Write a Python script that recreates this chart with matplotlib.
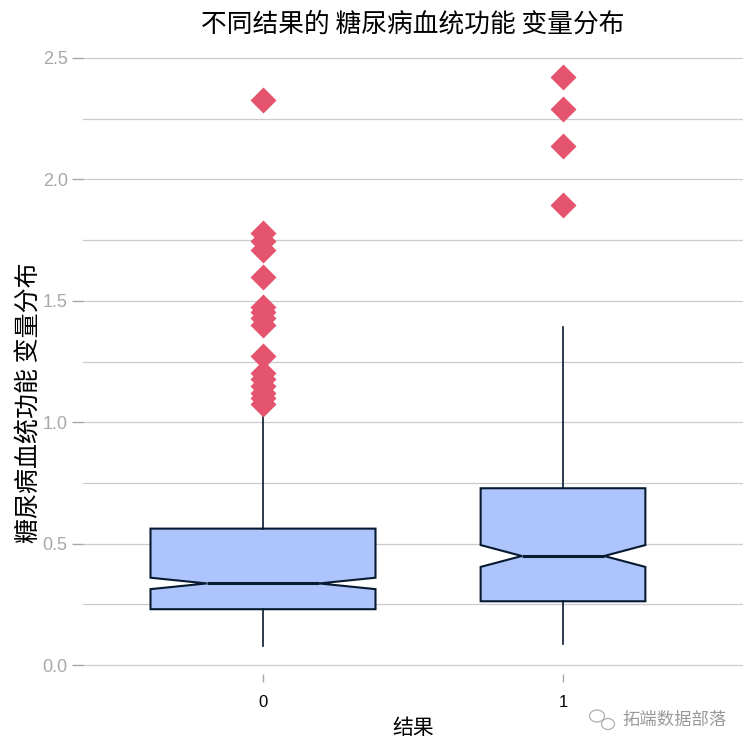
import matplotlib
matplotlib.use("Agg")
import matplotlib.pyplot as plt
import numpy as np
from matplotlib.patches import Ellipse

plt.rcParams["font.family"] = ["Noto Sans CJK SC", "DejaVu Sans"]

# summary of the two groups
groups = ["0", "1"]
n_obs = [500, 268]
q1 = [0.2298, 0.2625]
med = [0.336, 0.449]
q3 = [0.5617, 0.728]
notch_lo = [0.3125, 0.404]
notch_hi = [0.3595, 0.494]
whis_lo = [0.078, 0.088]
whis_hi = [1.057, 1.394]
outliers_0 = [2.329, 1.781, 1.745, 1.71, 1.6, 1.476, 1.455, 1.43, 1.4,
              1.271, 1.201, 1.177, 1.149, 1.122, 1.098, 1.076]
outliers_1 = [2.42, 2.288, 2.137, 1.893]

title = "不同结果的 糖尿病血统功能 变量分布"
ylabel = "糖尿病血统功能 变量分布"
xlabel = "结果"
watermark = "拓端数据部落"

FILL = "#adc4fc"
EDGE = "#071a2f"
PINK = "#e5546f"
GRID = "#cacad0"
TICKC = "#a8a8a8"

W = 753
fig = plt.figure(figsize=(7.53, 7.53), dpi=100)
ax = fig.add_axes([83 / W, 1 - 674 / W, (743 - 83) / W, (674 - 49) / W])

stats = []
outs = [outliers_0, outliers_1]
for i in range(len(groups)):
    stats.append({
        "label": groups[i],
        "med": med[i], "q1": q1[i], "q3": q3[i],
        "cilo": notch_lo[i], "cihi": notch_hi[i],
        "whislo": whis_lo[i], "whishi": whis_hi[i],
        "fliers": np.array(outs[i]),
    })

pos = np.arange(len(groups))
widths = 0.75 * np.sqrt(np.array(n_obs) / max(n_obs))

ax.bxp(
    stats, positions=pos, widths=widths, shownotches=True, showcaps=False,
    patch_artist=True,
    boxprops=dict(facecolor=FILL, edgecolor=EDGE, linewidth=1.5),
    medianprops=dict(color=EDGE, linewidth=2.2),
    whiskerprops=dict(color=EDGE, linewidth=1.2),
    flierprops=dict(marker="D", markerfacecolor=PINK, markeredgecolor="none",
                    markersize=13),
    zorder=3,
)

ax.set_xlim(-0.6, 1.6)
ax.set_ylim(-0.037, 2.537)
ax.set_xticks(pos)
ax.set_xticklabels(groups, fontsize=12, family="Liberation Sans", color="black")
ax.set_yticks(np.arange(0, 2.51, 0.5))
ax.set_yticks(np.arange(0.25, 2.5, 0.5), minor=True)
ax.set_yticklabels(["{:.1f}".format(v) for v in np.arange(0, 2.51, 0.5)],
                   fontsize=13, family="Liberation Sans", color=TICKC)
ax.tick_params(axis="y", which="major", length=8, width=1, color=TICKC, pad=3)
ax.tick_params(axis="y", which="minor", length=0)
ax.tick_params(axis="x", length=6, width=1, color=TICKC, pad=9)
ax.yaxis.grid(True, which="both", color=GRID, linewidth=0.9)
ax.set_axisbelow(True)
for s in ax.spines.values():
    s.set_visible(False)

fig.text(413 / W, 1 - 25 / W, title, ha="center", va="center", fontsize=18.5)
fig.text(30 / W, 1 - 403 / W, ylabel, ha="center", va="center", rotation=90,
         fontsize=18)
fig.text(413 / W, 1 - 728 / W, xlabel, ha="center", va="center", fontsize=15)

# watermark
fig.text(622 / W, 1 - 720 / W, watermark, ha="left", va="center", fontsize=12.5,
         color="#9a9a9a")
fig.patches.append(Ellipse((597 / W, 1 - 716 / W), 15 / W, 12 / W, fill=False,
                           edgecolor="#b0b0b0", linewidth=0.9,
                           transform=fig.transFigure))
fig.patches.append(Ellipse((608 / W, 1 - 724 / W), 13 / W, 11 / W, facecolor="white",
                           edgecolor="#b0b0b0", linewidth=0.9,
                           transform=fig.transFigure))

fig.savefig("out.png", dpi=100, facecolor="white")
